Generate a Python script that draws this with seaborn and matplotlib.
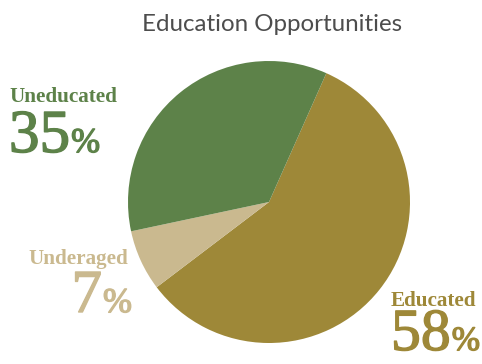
import matplotlib
matplotlib.use("Agg")
import matplotlib.pyplot as plt
import matplotlib.patheffects as pe
import seaborn as sns

# Share of each group
categories = ["Educated", "Underaged", "Uneducated"]
shares = [58, 7, 35]
colors = ["#9e8838", "#cab98f", "#5d8249"]
title = "Education Opportunities"

sns.set_theme(style="white")
plt.rcParams["font.family"] = ["Lato", "DejaVu Sans"]

W, H = 482, 364
fig = plt.figure(figsize=(W / 100, H / 100), dpi=100)
fig.patch.set_facecolor("white")


def fx(x):
    return x / W


def fy(y):
    return 1 - y / H


# Pie centred at (269, 202) px with radius 141 px
cx, cy, r = 269, 202, 141
ax = fig.add_axes([fx(cx - r), fy(cy + r), 2 * r / W, 2 * r / H])
ax.pie(shares, colors=colors, startangle=66, counterclock=False,
       radius=1.0, wedgeprops=dict(linewidth=0))
ax.set_xlim(-1, 1)
ax.set_ylim(-1, 1)
ax.set_aspect("auto")
ax.axis("off")

fig.text(fx(272), fy(31), title, ha="center", va="baseline",
         fontsize=17.4, color="#4d4d4d", family=["Lato", "DejaVu Sans"])

serif = ["Liberation Serif", "DejaVu Serif"]
lab = {c: (s, col) for c, s, col in zip(categories, shares, colors)}


def label(name, x, y_name, y_num, align, size=44):
    value, col = lab[name]
    renderer = fig.canvas.get_renderer()
    fig.text(fx(x), fy(y_name), name, ha=align, va="baseline",
             fontsize=15.2, fontweight="bold", color=col, family=serif)
    thick = [pe.withStroke(linewidth=1.0, foreground=col)]
    num = fig.text(0, fy(y_num), f"{value}", ha="left", va="baseline",
                   fontsize=size, color=col, family=serif, path_effects=thick)
    pct = fig.text(0, fy(y_num), "%", ha="left", va="baseline",
                   fontsize=size * 25 / 44, color=col, family=serif,
                   path_effects=thick)
    wn = num.get_window_extent(renderer).width
    wp = pct.get_window_extent(renderer).width
    if align == "left":
        x0 = x
    else:
        x0 = x + 3 - wn - wp
    num.set_x(fx(x0))
    pct.set_x(fx(x0 + wn + 1))


label("Uneducated", 9, 102, 152, "left")
label("Underaged", 128, 264, 312, "right")
label("Educated", 391, 306, 350, "left", size=43)

fig.savefig("out.png", dpi=100, facecolor="white")
